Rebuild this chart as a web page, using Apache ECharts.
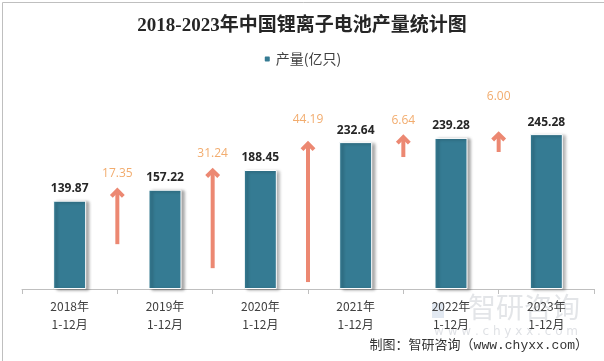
<!DOCTYPE html>
<html>
<head>
<meta charset="utf-8">
<script src="https://cdn.jsdelivr.net/npm/echarts@6/dist/echarts.min.js"></script>
<style>
html,body{margin:0;padding:0;background:#fff;}
#c{width:604px;height:361px;}
</style>
</head>
<body>
<div id="c"></div>
<script>
// ---- data ----
var categories = ['2018年\n1-12月','2019年\n1-12月','2020年\n1-12月','2021年\n1-12月','2022年\n1-12月','2023年\n1-12月'];
var production = [139.87, 157.22, 188.45, 232.64, 239.28, 245.28];
var increments = [17.35, 31.24, 44.19, 6.64, 6.00];
var arrowBase = [14.2, 6.6, 2.2, 41.8, 43.4];      // start of each arrow on the secondary scale
var arrowLabelLevel = [36.7, 43.0, 53.8, 53.5, 61.1]; // label height on the secondary scale
var seriesName = '产量(亿只)';

var chart = echarts.init(document.getElementById('c'), null, {renderer:'canvas'});

var arrowData = increments.map(function(v, i){
  return [i + 1, arrowBase[i], arrowBase[i] + v, v, arrowLabelLevel[i]];
});

var option = {
  animation: false,
  backgroundColor: '#fff',
  title: {
    text: '2018-2023年中国锂离子电池产量统计图',
    left: 'center',
    top: 12,
    textStyle: {fontFamily: '"Liberation Serif","Noto Sans CJK SC",serif', fontSize: 19, fontWeight: 'bold', color: '#262626'}
  },
  legend: {
    data: [seriesName],
    top: 47,
    left: 'center',
    itemWidth: 7, itemHeight: 7,
    itemGap: 4,
    textStyle: {fontFamily: '"Noto Sans CJK SC",sans-serif', fontSize: 14, color: '#404040'}
  },
  grid: {left: 22, right: 10, top: 68, bottom: 72},
  xAxis: [{
    type: 'category',
    data: categories,
    axisLine: {lineStyle: {color: '#bfbfbf'}},
    axisTick: {show: true, length: 5, lineStyle: {color: '#bfbfbf'}},
    axisLabel: {fontFamily: '"Noto Sans CJK SC",sans-serif', fontSize: 12, color: '#404040', lineHeight: 18, margin: 8}
  }, {
    type: 'value', min: 0, max: 6, show: false
  }],
  yAxis: [{
    type: 'value', min: 0, max: 350, show: false
  }, {
    type: 'value', min: 0, max: 70, show: false
  }],
  series: [{
    name: seriesName,
    type: 'bar',
    data: production,
    barWidth: 33,
    itemStyle: {
      color: '#357B93',
      borderColor: '#ffffff', borderWidth: 1,
      shadowColor: 'rgba(0,0,0,0.35)', shadowBlur: 3, shadowOffsetX: 3, shadowOffsetY: 1
    },
    label: {
      show: true, position: 'top', distance: 6,
      fontFamily: '"Open Sans",sans-serif', fontSize: 12, fontWeight: 'bold', color: '#262626'
    }
  }, {
    type: 'custom',
    xAxisIndex: 1, yAxisIndex: 1,
    data: arrowData,
    renderItem: function(params, api){
      var x = api.value(0);
      var bottom = api.coord([x, api.value(1)]);
      var top = api.coord([x, api.value(2)]);
      var lab = api.coord([x, api.value(4)]);
      var color = '#EC8872';
      return {
        type: 'group',
        children: [{
          type: 'line',
          shape: {x1: bottom[0], y1: bottom[1], x2: top[0], y2: top[1] + 2},
          style: {stroke: color, lineWidth: 4}
        }, {
          type: 'polyline',
          shape: {points: [[top[0] - 6, top[1] + 7], [top[0], top[1] + 1], [top[0] + 6, top[1] + 7]]},
          style: {stroke: color, lineWidth: 4, fill: null, lineJoin: 'miter'}
        }, {
          type: 'text',
          x: lab[0], y: lab[1],
          style: {
            text: api.value(3).toFixed(2),
            fill: '#F2AC6E',
            font: '12px "Open Sans", sans-serif',
            align: 'center', verticalAlign: 'middle'
          }
        }]
      };
    },
    z: 3
  }],
  graphic: [{
    type: 'rect', left: 0, top: 0, z: 100,
    shape: {x: 0.5, y: 0.5, width: 603, height: 360},
    style: {stroke: '#bfbfbf', fill: null, lineWidth: 1}
  }, {
    type: 'rect', z: 0,
    shape: {x: 432, y: 303, width: 12, height: 15},
    style: {fill: 'rgba(170,190,215,0.35)'}
  }, {
    type: 'text', z: 0, left: 468, top: 293,
    style: {text: '智研咨询', font: '28px "Noto Sans CJK SC", sans-serif', fill: 'rgba(175,180,190,0.35)'}
  }, {
    type: 'text', z: 0, left: 434, top: 326,
    style: {text: 'w w w . c h y x x . c o m', font: '12px "DejaVu Sans", sans-serif', fill: 'rgba(175,180,190,0.4)'}
  }, {
    type: 'text', right: 16, top: 339,
    style: {text: '制图：智研咨询（www.chyxx.com）', font: '13px "Liberation Mono","Noto Sans CJK SC", monospace', fill: '#333333'}
  }]
};
chart.setOption(option);
</script>
</body>
</html>
